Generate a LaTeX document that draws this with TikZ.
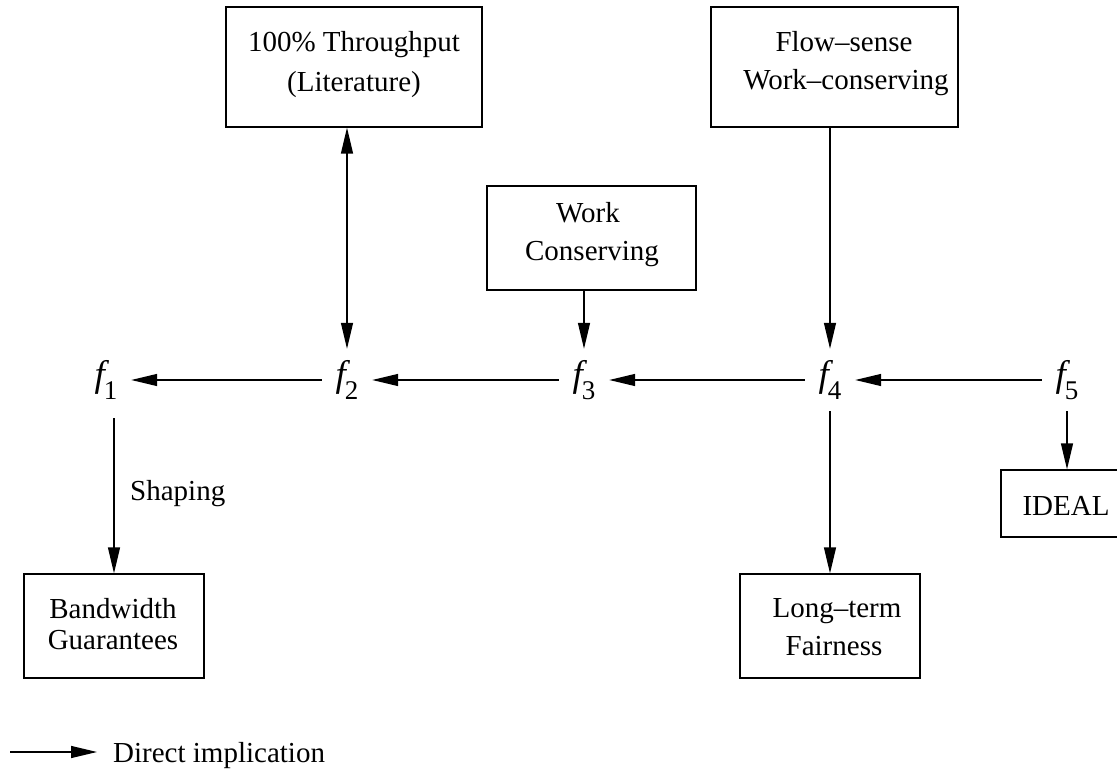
\documentclass[tikz,border=0pt]{standalone}
\usepackage{fontspec}
\setmainfont{Liberation Serif}
\usetikzlibrary{arrows.meta}
% italic f with a large lowered index
\newcommand\fsym[1]{{\fontsize{37}{37}\selectfont\itshape f}\kern-1pt\raisebox{-13pt}{\fontsize{27}{27}\selectfont #1}}
\begin{document}
\begin{tikzpicture}[x=1pt,y=-1pt,
  box/.style={draw, line width=1.3pt, rectangle, inner sep=0pt},
  lbl/.style={anchor=base, inner sep=0pt, font=\fontsize{29}{34}\selectfont},
  fnode/.style={inner sep=0pt, minimum width=50pt, minimum height=62pt},
  imp/.style={line width=1.3pt, -{Triangle[length=26pt,width=12pt]}},
  dimp/.style={line width=1.3pt, {Triangle[length=26pt,width=12pt]}-{Triangle[length=26pt,width=12pt]}},
]
\useasboundingbox (0,0) rectangle (1117,770);

% boxes
\node[box, minimum width=256pt, minimum height=120pt] (thr)   at (354,67)    {};
\node[box, minimum width=247pt, minimum height=120pt] (flow)  at (834.5,67)  {};
\node[box, minimum width=209pt, minimum height=104pt] (work)  at (591.5,238) {};
\node[box, minimum width=180pt, minimum height=104pt] (bw)    at (114,626)   {};
\node[box, minimum width=180pt, minimum height=104pt] (lt)    at (830,626)   {};
\node[box, minimum width=139pt, minimum height=67pt]  (ideal) at (1070.5,503.5) {};

% box texts
\node[lbl] (thr1)  at (354,52)  {100\% Throughput};
\node[lbl] (thr2)  at (354,92)  {(Literature)};
\node[lbl] (flow1) at (844,52)  {Flow–sense};
\node[lbl] (flow2) at (846,90)  {Work–conserving};
\node[lbl] (work1) at (588,223) {Work};
\node[lbl] (work2) at (592,261) {Conserving};
\node[lbl] (bw1)   at (113,618) {Bandwidth};
\node[lbl] (bw2)   at (113,649) {Guarantees};
\node[lbl] (lt1)   at (837,617) {Long–term};
\node[lbl] (lt2)   at (834,655) {Fairness};
\node[lbl] (ideal1) at (1066,515) {IDEAL};

% the f chain
\node[fnode] (f1) at (106,380)  {\fsym{1}};
\node[fnode] (f2) at (347,380)  {\fsym{2}};
\node[fnode] (f3) at (584,380)  {\fsym{3}};
\node[fnode] (f4) at (830,380)  {\fsym{4}};
\node[fnode] (f5) at (1067,380) {\fsym{5}};

\draw[imp] (f2.west) -- (f1.east);
\draw[imp] (f3.west) -- (f2.east);
\draw[imp] (f4.west) -- (f3.east);
\draw[imp] (f5.west) -- (f4.east);

% vertical implications
\draw[dimp] (f2.north |- thr.south) -- (f2.north);
\draw[imp] (f3.north |- work.south) -- (f3.north);
\draw[imp] (f4.north |- flow.south) -- (f4.north);
\draw[imp] (f4.south) -- (f4.south |- lt.north);
\draw[imp] (f5.south) -- (f5.south |- ideal.north);
\draw[imp, shorten <=7pt] (f1.south -| bw.north) -- (bw.north);
\node[lbl, anchor=base west] (shaping) at (130,500) {Shaping};

% legend
\coordinate (lg0) at (10,752);
\coordinate (lg1) at (97,752);
\draw[imp] (lg0) -- (lg1);
\node[lbl, anchor=base west] (lgtext) at (113,762) {Direct implication};
\end{tikzpicture}
\end{document}
